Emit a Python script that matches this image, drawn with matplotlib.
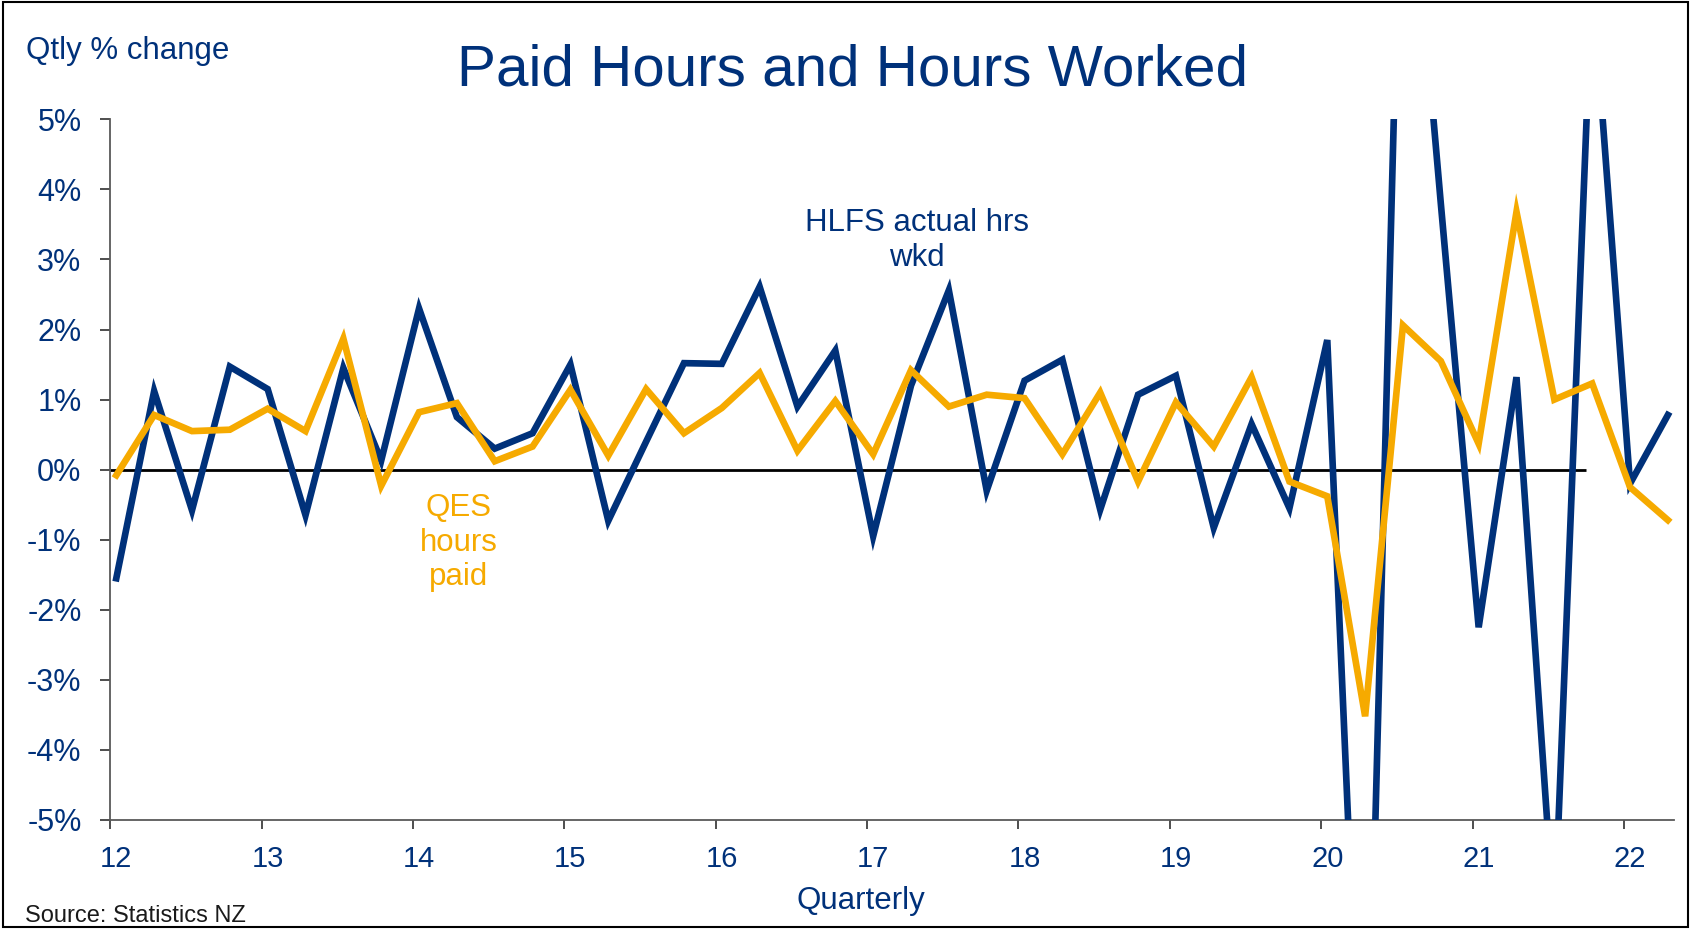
import matplotlib
matplotlib.use("Agg")
import matplotlib.pyplot as plt
import matplotlib.transforms as mtransforms
from matplotlib.patches import Rectangle
import numpy as np

plt.rcParams['font.family'] = ['Liberation Sans', 'DejaVu Sans']

# ---- data -------------------------------------------------------------
quarter_index = np.arange(42)          # 2012 Q1 .. 2022 Q2
start_year = 12.04                      # first plotted quarter position
hlfs_hours_worked = [
    -1.55, 1.12, -0.58, 1.47,
    1.15, -0.65, 1.45, 0.13,
    2.30, 0.75, 0.30, 0.52,
    1.50, -0.73, 0.40, 1.52,
    1.51, 2.61, 0.90, 1.70,
    -0.95, 1.20, 2.56, -0.30,
    1.27, 1.57, -0.57, 1.07,
    1.34, -0.83, 0.65, -0.55,
    1.85, -10.6, 10.0, 3.8,
    -2.25, 1.32, -6.5, 7.0,
    -0.20, 0.78,
]
qes_hours_paid = [
    -0.08, 0.78, 0.55, 0.57,
    0.87, 0.55, 1.87, -0.23,
    0.82, 0.95, 0.12, 0.33,
    1.14, 0.20, 1.15, 0.52,
    0.88, 1.38, 0.27, 0.98,
    0.22, 1.42, 0.90, 1.07,
    1.02, 0.22, 1.10, -0.17,
    0.96, 0.33, 1.32, -0.17,
    -0.38, -3.52, 2.06, 1.55,
    0.37, 3.68, 1.00, 1.23,
    -0.25, -0.72,
]
x_ticks = list(range(12, 23))
x_tick_labels = [str(t) for t in x_ticks]
y_ticks = list(range(-5, 6))
y_tick_labels = [f"{t}%" for t in y_ticks]
zero_line_end = 21.75

NAVY = '#00317A'
ORANGE = '#F6AA00'

x = start_year + 0.25 * quarter_index

fig = plt.figure(figsize=(16.91, 9.30), dpi=100)
ax = fig.add_axes([0.0652, 0.1183, 0.9247, 0.7534])

ax.hlines(0, 12, zero_line_end, color='black', lw=2.0, zorder=1)
ax.plot(x, hlfs_hours_worked, color=NAVY, lw=4.8, solid_joinstyle='miter', zorder=3)
ax.plot(x, qes_hours_paid, color=ORANGE, lw=4.8, solid_joinstyle='miter', zorder=4)

ax.set_xlim(12, 22.33)
ax.set_ylim(-5, 5)
ax.set_xticks(x_ticks)
ax.set_xticklabels(x_tick_labels)
ax.set_yticks(y_ticks)
ax.set_yticklabels(y_tick_labels)

for s in ['top', 'right']:
    ax.spines[s].set_visible(False)
for s in ['left', 'bottom']:
    ax.spines[s].set_color('#595959')
    ax.spines[s].set_linewidth(1.3)

ax.tick_params(axis='y', direction='out', length=7.2, width=1.3, color='#404040',
               labelsize=22, labelcolor=NAVY, pad=13.5)
ax.tick_params(axis='x', direction='out', length=6.7, width=1.3, color='#404040',
               labelsize=21, labelcolor=NAVY, pad=11.5)

offset = mtransforms.ScaledTranslation(6 / 100, 0, fig.dpi_scale_trans)
for lab in ax.get_xticklabels():
    lab.set_transform(lab.get_transform() + offset)

fig.text(0.5044, 1 - 43.3 / 930, "Paid Hours and Hours Worked", ha='center', va='top',
         fontsize=42, color=NAVY)
fig.text(26 / 1691, 1 - 36 / 930, "Qtly % change", ha='left', va='top',
         fontsize=22.5, color=NAVY)
fig.text(917 / 1691, 1 - 208 / 930, "HLFS actual hrs\nwkd", ha='center', va='top',
         fontsize=22.5, color=NAVY, linespacing=1.2)
fig.text(459 / 1691, 1 - 493 / 930, "QES\nhours\npaid", ha='center', va='top',
         fontsize=22.5, color=ORANGE, linespacing=1.2)
fig.text(861 / 1691, 1 - 909.3 / 930, "Quarterly", ha='center', va='baseline',
         fontsize=22.5, color=NAVY)
fig.text(25 / 1691, 1 - 921.7 / 930, "Source: Statistics NZ", ha='left', va='baseline',
         fontsize=17, color='#1a1a1a')

fig.patches.append(Rectangle((0.0015, 0.0035), 0.9967, 0.9947, transform=fig.transFigure,
                             fill=False, lw=1.5, ec='black'))

fig.savefig('out.png', dpi=100)
